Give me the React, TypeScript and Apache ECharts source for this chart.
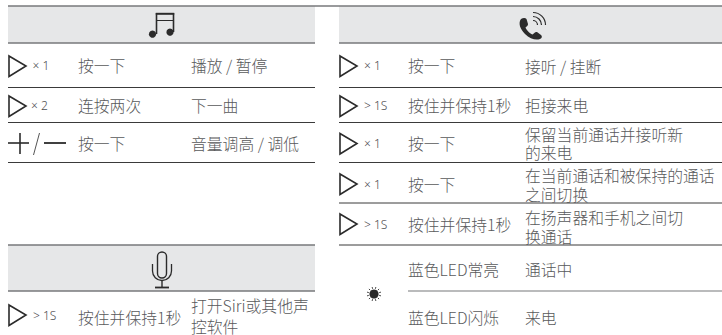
import React, { useEffect, useRef } from "react";
import * as echarts from "echarts";

// ---- content ----
const musicCounts = ["× 1", "× 2"];
const musicActions = ["按一下", "连按两次", "按一下"];
const musicResults = ["播放 / 暂停", "下一曲", "音量调高 / 调低"];
const micCounts = ["> 1S"];
const micActions = ["按住并保持1秒"];
const micResults = ["打开Siri或其他声\n控软件"];
const phoneCounts = ["× 1", "> 1S", "× 1", "× 1", "> 1S"];
const phoneActions = ["按一下", "按住并保持1秒", "按一下", "按一下", "按住并保持1秒"];
const phoneResults = [
  "接听 / 挂断",
  "拒接来电",
  "保留当前通话并接听新\n的来电",
  "在当前通话和被保持的通话\n之间切换",
  "在扬声器和手机之间切\n换通话",
];
const ledActions = ["蓝色LED常亮", "蓝色LED闪烁"];
const ledResults = ["通话中", "来电"];

// ---- layout ----
const FONT = '"Noto Sans CJK SC", "Noto Sans", sans-serif';
const SMALL_FONT = '"Noto Sans", sans-serif';
const TEXT = "#58595b";
const DARK = "#2b2b2b";
const GRAY = "#77787b";
const HEAD = "#e6e7e8";
const BODY_SIZE = 15.8;
const LEFT = [8, 315];
const RIGHT = [339, 722];
const musicY = [65.5, 105.5, 143];
const micY = [316];
const phoneY = [65.5, 105.5, 143, 184, 224];
const phoneResultY = [66, 105.5, 143.5, 184.5, 226.5];
const ledY = [269, 317];
const hLines: [number, number, number][] = [
  [LEFT[0], LEFT[1], 87.5],
  [LEFT[0], LEFT[1], 122.5],
  [LEFT[0], LEFT[1], 162.5],
  [RIGHT[0], RIGHT[1], 87.5],
  [RIGHT[0], RIGHT[1], 122.5],
  [RIGHT[0], RIGHT[1], 162.5],
  [RIGHT[0], RIGHT[1], 203],
  [RIGHT[0], RIGHT[1], 245],
];

const PHONE_D =
  "M2 1 C4 -0.5 6.5 -0.5 7.5 1 L9 6 C9.3 7.5 7.5 8.5 6.5 9.5 C7.5 12 10.5 15.5 13.5 16.5 C15 15.5 16 13.5 18 14 L22 17 C23.5 18.5 23 20 21 21 C17 22.5 11 21 6 16 C1 11 -1 5 2 1 Z";
echarts.graphic.registerShape("phoneHandset", echarts.graphic.extendPath(PHONE_D, {}) as any);

function txt(x: number, y: number, s: string, size = BODY_SIZE, fill = TEXT, font = FONT) {
  return {
    type: "text",
    x,
    y,
    silent: true,
    style: { text: s, fill, font: `300 ${size}px ${font}`, lineHeight: size, verticalAlign: "middle", align: "left" },
  };
}
// Each wrapped line is its own text element, centred as a block on y.
function multi(els: any[], x: number, y: number, s: string, spacing: number) {
  const parts = s.split("\n");
  parts.forEach((p, i) => els.push(txt(x, y + (i - (parts.length - 1) / 2) * spacing, p)));
}
function small(x: number, y: number, s: string) {
  return txt(x, y, s, 12, "#4d4d4f", SMALL_FONT);
}
function line(x1: number, y1: number, x2: number, y2: number, stroke = DARK, lineWidth = 1, cap = "butt") {
  return { type: "line", shape: { x1, y1, x2, y2 }, style: { stroke, lineWidth, lineCap: cap } };
}
function tri(x: number, y: number) {
  return {
    type: "polygon",
    shape: { points: [[x, y - 10], [x + 17, y], [x, y + 10.5]] },
    style: { fill: "none", stroke: DARK, lineWidth: 1.6 },
  };
}
function arc(cx: number, cy: number, r: number, a: number, b: number, lineWidth: number) {
  return {
    type: "arc",
    shape: { cx, cy, r, startAngle: a, endAngle: b, clockwise: true },
    style: { fill: "none", stroke: DARK, lineWidth },
  };
}

function buildGraphic() {
  const els: any[] = [];
  // header bands
  els.push({ type: "rect", shape: { x: LEFT[0], y: 6, width: LEFT[1] - LEFT[0], height: 37 }, style: { fill: HEAD } });
  els.push({ type: "rect", shape: { x: RIGHT[0], y: 6, width: RIGHT[1] - RIGHT[0], height: 37 }, style: { fill: HEAD } });
  els.push({ type: "rect", shape: { x: LEFT[0], y: 245, width: LEFT[1] - LEFT[0], height: 46 }, style: { fill: HEAD } });
  els.push(line(LEFT[0], 6, RIGHT[1], 6, GRAY, 1.6));
  els.push(line(LEFT[0], 43, LEFT[1], 43, GRAY, 1.6));
  els.push(line(RIGHT[0], 43, RIGHT[1], 43, GRAY, 1.6));
  els.push(line(LEFT[0], 245, LEFT[1], 245, GRAY, 1.4));
  els.push(line(LEFT[0], 291, LEFT[1], 291, GRAY, 1.4));
  hLines.forEach(([a, b, y]) => els.push(line(a, y, b, y, "#3a3a3a", 1)));
  els.push(line(408, 291, RIGHT[1], 291, GRAY, 1.2));

  // music block
  musicActions.forEach((s, i) => els.push(txt(78, musicY[i], s)));
  musicResults.forEach((s, i) => els.push(txt(191, musicY[i], s)));
  musicCounts.forEach((s, i) => {
    els.push(tri(9, [66, 106][i]));
    els.push(small(i === 1 ? 31 : 32.5, musicY[i], s));
  });
  // plus / slash / minus
  els.push(line(8, 143, 29, 143, DARK, 1.6));
  els.push(line(20, 133, 20, 154, DARK, 1.6));
  els.push(line(33.5, 155, 39.5, 133, "#555", 1));
  els.push(line(44, 143, 66, 143, DARK, 1.8));

  // mic block
  micActions.forEach((s, i) => els.push(txt(78, micY[i] + 1, s)));
  micResults.forEach((s, i) => multi(els, 191, micY[i], s, 21.5));
  micCounts.forEach((s) => {
    els.push(tri(9, 315));
    els.push(small(33, 315, s));
  });

  // phone block
  phoneActions.forEach((s, i) => els.push(txt(408, phoneY[i], s)));
  phoneResults.forEach((s, i) => multi(els, 525, phoneResultY[i], s, i === 2 ? 18 : 19));
  phoneCounts.forEach((s, i) => {
    els.push(tri(340, [66, 106, 143.5, 184, 224][i]));
    els.push(small(364, phoneY[i], s));
  });

  // LED block
  ledActions.forEach((s, i) => els.push(txt(408, ledY[i], s)));
  ledResults.forEach((s, i) => els.push(txt(525, ledY[i], s)));
  const sx = 374,
    sy = 294;
  els.push({ type: "circle", shape: { cx: sx, cy: sy, r: 4.6 }, style: { fill: DARK } });
  for (let k = 0; k < 12; k++) {
    const a = (k * Math.PI) / 6 + Math.PI / 12;
    els.push(line(sx + 5.4 * Math.cos(a), sy + 5.4 * Math.sin(a), sx + 7.2 * Math.cos(a), sy + 7.2 * Math.sin(a), DARK, 0.9));
  }

  // music icon
  els.push(line(156.5, 34, 156.5, 13, DARK, 1.6));
  els.push(line(173.5, 32, 173.5, 13, DARK, 1.6));
  els.push(line(155.8, 13.8, 174.2, 13.8, DARK, 2));
  els.push(line(156, 20.5, 174, 20.5, DARK, 1));
  els.push({ type: "circle", shape: { cx: 152.5, cy: 34.2, r: 3.6 }, style: { fill: DARK } });
  els.push({ type: "circle", shape: { cx: 170, cy: 32.2, r: 3.6 }, style: { fill: DARK } });

  // phone icon
  els.push({ type: "phoneHandset", x: 519, y: 18, scaleX: 1, scaleY: 1, style: { fill: DARK } });
  const c0 = -Math.PI / 2;
  const c1 = 0;
  els.push(arc(533, 25, 4.5, c0, c1, 1.2));
  els.push(arc(533, 25, 8.5, c0, c1, 1.2));
  els.push(arc(533, 25, 12.5, c0, c1, 1.2));

  // mic icon
  els.push({ type: "rect", shape: { x: 157.5, y: 252, width: 9, height: 26, r: 4.5 }, style: { fill: "none", stroke: DARK, lineWidth: 1.4 } });
  els.push(arc(162, 271, 9.5, 0, Math.PI, 1.3));
  els.push(line(152.5, 264, 152.5, 271, DARK, 1.3));
  els.push(line(171.5, 264, 171.5, 271, DARK, 1.3));
  els.push(line(162, 280.5, 162, 287, DARK, 1.4));
  els.push(line(155, 287.5, 169, 287.5, DARK, 1.8));
  return els;
}

export default function App() {
  const ref = useRef<HTMLDivElement>(null);
  useEffect(() => {
    const chart = echarts.init(ref.current!, null, { renderer: "svg" });
    chart.setOption({ animation: false, backgroundColor: "#fff", graphic: { elements: buildGraphic() } });
    return () => chart.dispose();
  }, []);
  return <div ref={ref} style={{ position: "fixed", left: 0, top: 0, width: 722, height: 335 }} />;
}
